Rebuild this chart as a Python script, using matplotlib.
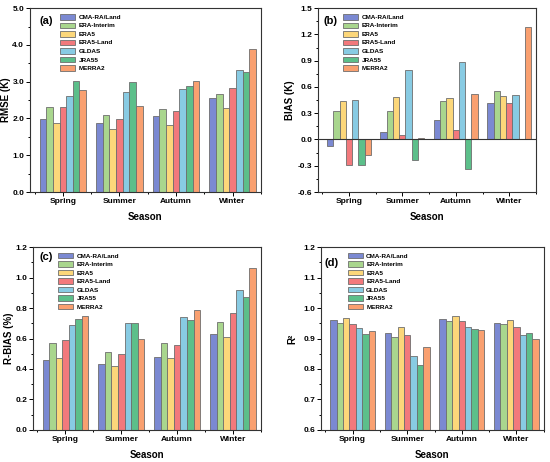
import numpy as np
import matplotlib
matplotlib.use('Agg')
import matplotlib.pyplot as plt
from matplotlib.ticker import MultipleLocator, FormatStrFormatter

plt.rcParams['font.family'] = ['Liberation Sans', 'DejaVu Sans']
plt.rcParams['font.weight'] = 'bold'

seasons = ['Spring', 'Summer', 'Autumn', 'Winter']
products = ['CMA-RA/Land', 'ERA-Interim', 'ERA5', 'ERA5-Land', 'GLDAS', 'JRA55', 'MERRA2']
colors = ['#7b89d2', '#a9d68e', '#fcd77a', '#f2797c', '#88cbe3', '#5cbf8a', '#f9a070']

# rows = products, columns = seasons
rmse = [
    [1.98, 1.89, 2.06, 2.55],
    [2.30, 2.09, 2.27, 2.66],
    [1.89, 1.70, 1.83, 2.28],
    [2.32, 1.98, 2.19, 2.82],
    [2.62, 2.72, 2.80, 3.31],
    [3.01, 2.98, 2.89, 3.27],
    [2.78, 2.35, 3.01, 3.89],
]
bias = [
    [-0.07, 0.08, 0.22, 0.42],
    [0.33, 0.33, 0.44, 0.55],
    [0.44, 0.48, 0.47, 0.50],
    [-0.29, 0.05, 0.11, 0.42],
    [0.45, 0.79, 0.89, 0.51],
    [-0.29, -0.24, -0.34, 0.01],
    [-0.18, 0.02, 0.52, 1.28],
]
rbias = [
    [0.46, 0.43, 0.48, 0.63],
    [0.57, 0.51, 0.57, 0.71],
    [0.47, 0.42, 0.47, 0.61],
    [0.59, 0.50, 0.56, 0.77],
    [0.69, 0.70, 0.74, 0.92],
    [0.73, 0.70, 0.72, 0.87],
    [0.75, 0.60, 0.79, 1.06],
]
r2 = [
    [0.962, 0.918, 0.965, 0.952],
    [0.951, 0.905, 0.958, 0.947],
    [0.967, 0.938, 0.973, 0.961],
    [0.947, 0.912, 0.958, 0.937],
    [0.934, 0.843, 0.938, 0.911],
    [0.914, 0.813, 0.931, 0.917],
    [0.925, 0.872, 0.927, 0.898],
]

#=====================================================================================================
def Plot_Panel(ax, values, ylabel, tag, ylim, ystep, bottom=0.0, leg_xy=(0.12, 0.97),
               tag_xy=(0.03, 0.93), ylab_x=-0.08):
    x = np.arange(len(seasons))
    w = 0.117
    for i, (name, vals) in enumerate(zip(products, values)):
        vals = np.array(vals)
        ax.bar(x + (i - 3) * w, vals - bottom, width=w, bottom=bottom, color=colors[i],
               edgecolor='#6e6e6e', linewidth=0.6, label=name)
    if ylim[0] < 0:
        ax.axhline(0, color='#333333', linewidth=0.8)
    ax.set_xlim(-0.58, 3.5)
    ax.set_ylim(*ylim)
    ax.set_xticks(x)
    ax.set_xticklabels(seasons)
    ax.xaxis.set_minor_locator(MultipleLocator(1, offset=0.5))
    ax.yaxis.set_major_locator(MultipleLocator(ystep))
    ax.yaxis.set_minor_locator(MultipleLocator(ystep / 2))
    ax.yaxis.set_major_formatter(FormatStrFormatter('%.1f'))
    ax.tick_params(which='both', direction='out', labelsize=6, width=0.7, pad=1.2)
    ax.tick_params(which='major', length=3)
    ax.tick_params(which='minor', length=1.6)
    for s in ax.spines.values():
        s.set_linewidth(0.8)
        s.set_color('#333333')
    ax.set_xlabel('Season', fontsize=7, fontweight='bold', labelpad=5)
    ax.set_ylabel(ylabel, fontsize=7, fontweight='bold')
    ax.yaxis.set_label_coords(ylab_x, 0.5)
    ax.text(tag_xy[0], tag_xy[1], tag, transform=ax.transAxes, fontsize=8, fontweight='bold',
            va='center', ha='left')
    ax.legend(loc='upper left', bbox_to_anchor=leg_xy, frameon=False, fontsize=4.6,
              handlelength=2.4, handleheight=0.95, labelspacing=0.4, handletextpad=0.5,
              borderaxespad=0, borderpad=0)


fig = plt.figure(figsize=(5.5, 4.62), dpi=100)
ax_a = fig.add_axes([0.0545, 0.5844, 0.42, 0.398])
ax_b = fig.add_axes([0.578, 0.5844, 0.3965, 0.398])
ax_c = fig.add_axes([0.06, 0.0693, 0.4145, 0.396])
ax_d = fig.add_axes([0.5836, 0.0693, 0.405, 0.396])

Plot_Panel(ax_a, rmse, 'RMSE (K)', '(a)', (0, 5), 1.0, leg_xy=(0.13, 0.968),
           tag_xy=(0.04, 0.93), ylab_x=-0.08)
Plot_Panel(ax_b, bias, 'BIAS (K)', '(b)', (-0.6, 1.5), 0.3, leg_xy=(0.115, 0.968),
           tag_xy=(0.025, 0.93), ylab_x=-0.105)
Plot_Panel(ax_c, rbias, 'R-BIAS (%)', '(c)', (0, 1.2), 0.2, leg_xy=(0.11, 0.968),
           tag_xy=(0.027, 0.945), ylab_x=-0.085)
Plot_Panel(ax_d, r2, 'R²', '(d)', (0.6, 1.2), 0.1, bottom=0.6, leg_xy=(0.12, 0.968),
           tag_xy=(0.014, 0.915), ylab_x=-0.105)

fig.savefig('out.png', dpi=100)
